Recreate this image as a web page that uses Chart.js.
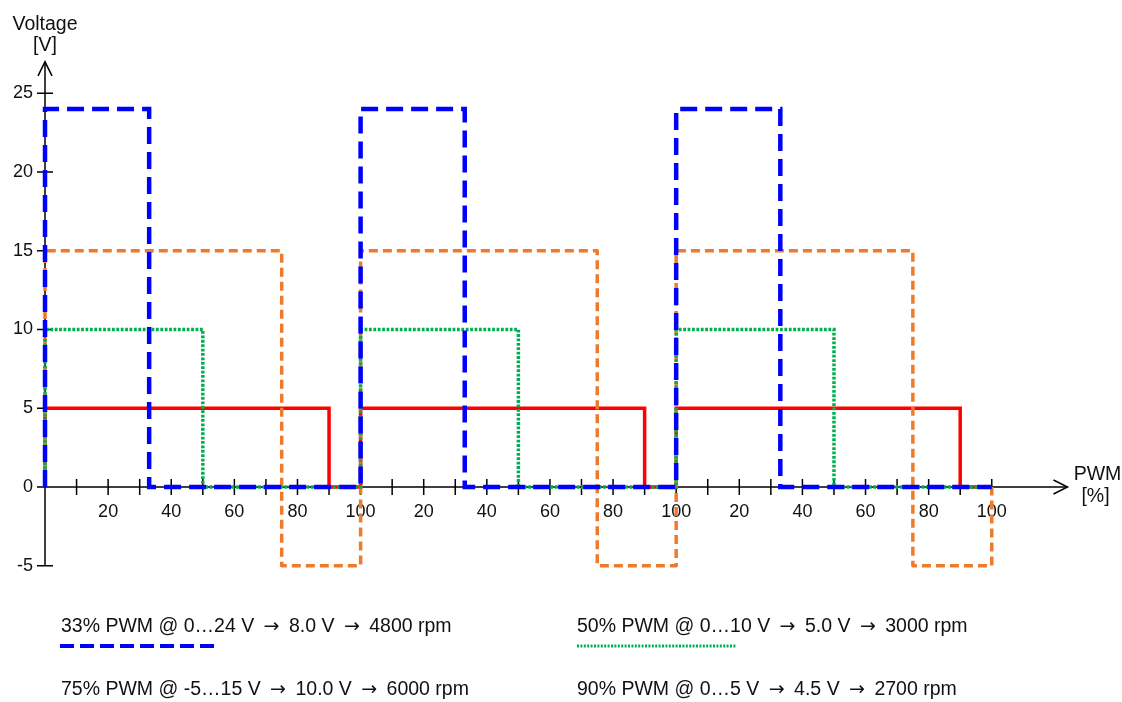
<!DOCTYPE html>
<html>
<head>
<meta charset="utf-8">
<script src="https://cdn.jsdelivr.net/npm/chart.js@4/dist/chart.umd.min.js"></script>
<style>
  html, body { margin: 0; padding: 0; background: #fff; }
  #wrap { width: 1122px; height: 702px; }
</style>
</head>
<body>
<div id="wrap"><canvas id="pwm"></canvas></div>
<script>
// each series: x where the level changes, and the level from there on (stepped line)
const blueX   = [0, 0, 33, 100, 133, 200, 233, 300];
const blueY   = [0, 24, 0, 24, 0, 24, 0, 0];
const greenX  = [0, 0, 50, 100, 150, 200, 250, 300];
const greenY  = [0, 10, 0, 10, 0, 10, 0, 0];
const orangeX = [0, 0, 75, 100, 175, 200, 275, 300];
const orangeY = [0, 15, -5, 15, -5, 15, -5, 0];
const redX    = [0, 0, 90, 100, 190, 200, 290, 300];
const redY    = [0, 5, 0, 5, 0, 5, 0, 0];

const seriesNames = [
  '33% PWM @ 0…24 V → 8.0 V → 4800 rpm',
  '50% PWM @ 0…10 V → 5.0 V → 3000 rpm',
  '75% PWM @ -5…15 V → 10.0 V → 6000 rpm',
  '90% PWM @ 0…5 V → 4.5 V → 2700 rpm'
];

const xTicks = [10, 20, 30, 40, 50, 60, 70, 80, 90, 100,
                110, 120, 130, 140, 150, 160, 170, 180, 190, 200,
                210, 220, 230, 240, 250, 260, 270, 280, 290, 300];
const yTicks = [-5, 0, 5, 10, 15, 20, 25];

const FONT = "'Liberation Sans', Arial, sans-serif";
const ARROW_FONT = "19px 'DejaVu Sans', sans-serif";
Chart.defaults.font.family = FONT;
Chart.defaults.font.size = 18;
Chart.defaults.color = '#111';

function pts(xs, ys) {
  return xs.map((x, i) => ({ x: x, y: ys[i] }));
}

// legend text; the arrows get a wider glyph and a bit of room on each side
function legendText(ctx, text, x, y) {
  const parts = text.split('→');
  parts.forEach((p, i) => {
    ctx.font = '19.5px ' + FONT;
    ctx.fillText(p, x, y);
    x += ctx.measureText(p).width;
    if (i < parts.length - 1) {
      ctx.font = ARROW_FONT;
      x += 4;
      ctx.fillText('→', x, y);
      x += ctx.measureText('→').width + 4;
    }
  });
}

// axis lines with arrows, crossing tick marks, titles and the legend below
const pwmAxes = {
  id: 'pwmAxes',
  beforeDatasetsDraw(chart) {
    const { ctx, chartArea, scales: { x, y } } = chart;
    const x0 = x.getPixelForValue(0), y0 = y.getPixelForValue(0);
    ctx.save();
    ctx.strokeStyle = '#000';
    ctx.lineWidth = 1.5;
    ctx.beginPath();
    ctx.moveTo(x0, y.getPixelForValue(-5));
    ctx.lineTo(x0, chartArea.top);
    ctx.moveTo(x0, y0);
    ctx.lineTo(chartArea.right, y0);
    xTicks.forEach(v => {
      const p = x.getPixelForValue(v);
      ctx.moveTo(p, y0 - 8); ctx.lineTo(p, y0 + 8);
    });
    yTicks.forEach(v => {
      const p = y.getPixelForValue(v);
      ctx.moveTo(x0 - 8, p); ctx.lineTo(x0 + 8, p);
    });
    ctx.stroke();
    ctx.beginPath();
    ctx.moveTo(x0 - 7, chartArea.top + 14);
    ctx.lineTo(x0, chartArea.top);
    ctx.lineTo(x0 + 7, chartArea.top + 14);
    ctx.moveTo(chartArea.right - 14, y0 - 7);
    ctx.lineTo(chartArea.right, y0);
    ctx.lineTo(chartArea.right - 14, y0 + 7);
    ctx.stroke();

    ctx.fillStyle = '#111';
    ctx.textBaseline = 'middle';
    ctx.font = '18px ' + FONT;
    ctx.textAlign = 'right';
    yTicks.forEach(v => ctx.fillText(String(v), x0 - 12, y.getPixelForValue(v)));
    ctx.font = '19.5px ' + FONT;
    ctx.textAlign = 'center';
    ctx.fillText('Voltage', x0, 25);
    ctx.fillText('[V]', x0, 46);
    ctx.fillText('PWM', chartArea.right + 30, y0 - 12);
    ctx.fillText('[%]', chartArea.right + 28, y0 + 10);
    ctx.restore();
  },
  afterDraw(chart) {
    const { ctx } = chart;
    const ds = chart.data.datasets;
    const spots = [[61, 627], [577, 627], [61, 690], [577, 690]];
    ctx.save();
    ctx.fillStyle = '#111';
    ctx.textAlign = 'left';
    ctx.textBaseline = 'middle';
    seriesNames.forEach((t, i) => legendText(ctx, t, spots[i][0], spots[i][1]));
    // only the first two entries show their line sample
    ctx.lineCap = 'butt';
    ctx.strokeStyle = ds[0].borderColor;
    ctx.lineWidth = 4;
    ctx.setLineDash([14, 6]);
    ctx.beginPath(); ctx.moveTo(60, 646); ctx.lineTo(214, 646); ctx.stroke();
    ctx.strokeStyle = ds[1].borderColor;
    ctx.lineWidth = 3;
    ctx.setLineDash([2, 1.4]);
    ctx.beginPath(); ctx.moveTo(577, 646); ctx.lineTo(736, 646); ctx.stroke();
    ctx.restore();
  }
};

new Chart(document.getElementById('pwm'), {
  type: 'line',
  data: {
    datasets: [
      { label: seriesNames[0], data: pts(blueX, blueY), borderColor: '#0000FF',
        borderWidth: 4.5, borderDash: [17, 8] },
      { label: seriesNames[1], data: pts(greenX, greenY), borderColor: '#00B050',
        borderWidth: 3.5, borderDash: [2.8, 1.6] },
      { label: seriesNames[2], data: pts(orangeX, orangeY), borderColor: '#EE7A2C',
        borderWidth: 3.5, borderDash: [9, 5], borderJoinStyle: 'round' },
      { label: seriesNames[3], data: pts(redX, redY), borderColor: '#FF0000',
        borderWidth: 3.5 }
    ]
  },
  options: {
    responsive: true,
    maintainAspectRatio: false,
    animation: false,
    layout: { padding: { left: 38.7, right: 54.5, top: 61.8, bottom: 120.5 } },
    elements: {
      line: { stepped: 'before', tension: 0, fill: false },
      point: { radius: 0, hoverRadius: 0 }
    },
    plugins: { legend: { display: false }, tooltip: { enabled: false } },
    scales: {
      x: {
        type: 'linear',
        min: -2, max: 324,
        position: { y: 0 },
        grid: { display: false },
        border: { display: false },
        afterBuildTicks: s => { s.ticks = xTicks.map(v => ({ value: v })); },
        ticks: {
          padding: 6,
          maxRotation: 0,
          autoSkip: false,
          callback: v => (v % 20 === 0 ? String(v % 100 === 0 ? 100 : v % 100) : '')
        }
      },
      y: {
        type: 'linear',
        min: -6, max: 27,
        position: { x: 0 },
        grid: { display: false },
        border: { display: false },
        afterBuildTicks: s => { s.ticks = yTicks.map(v => ({ value: v })); },
        ticks: { display: false }
      }
    }
  },
  plugins: [pwmAxes]
});
</script>
</body>
</html>
